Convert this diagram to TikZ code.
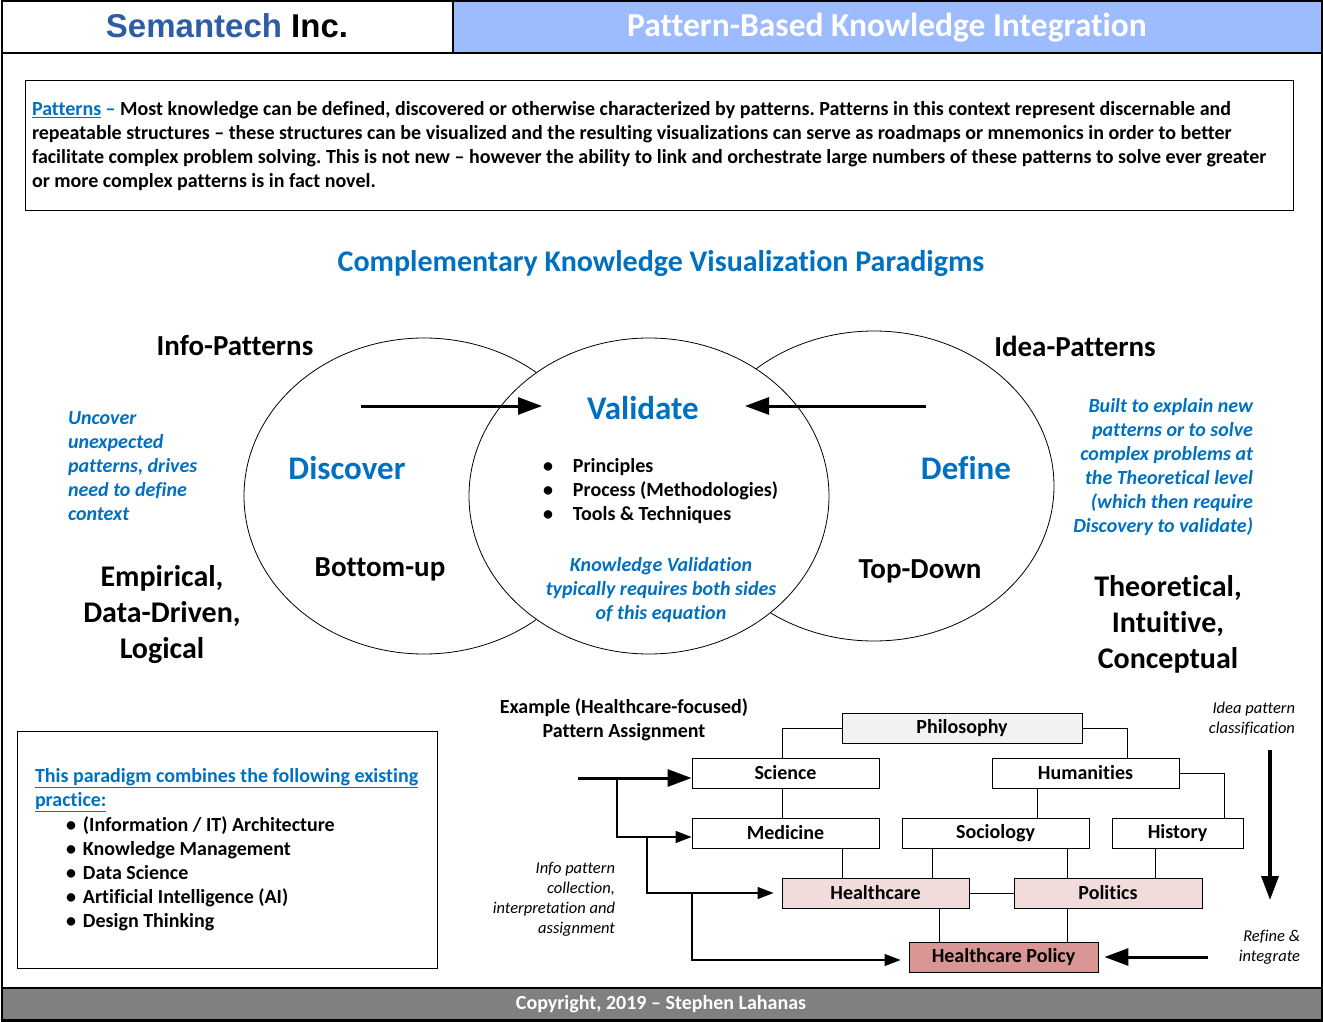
\documentclass[tikz,border=0pt]{standalone}
\usepackage{fontspec}
\setmainfont{Carlito}[Ligatures=NoCommon]
\newfontfamily\arialfont{Liberation Sans}
\usetikzlibrary{arrows.meta,calc}
\definecolor{kblue}{RGB}{0,112,192}
\definecolor{semblue}{RGB}{46,93,168}
\definecolor{hdrblue}{RGB}{157,187,255}
\definecolor{ftrgray}{RGB}{128,128,128}
\definecolor{philgray}{RGB}{242,242,242}
\definecolor{pinklt}{RGB}{242,220,219}
\definecolor{pinkdk}{RGB}{218,150,148}
\newcommand\fs[2]{\fontsize{#1}{#2}\selectfont}
\frenchspacing
\begin{document}
\begin{tikzpicture}[x=1pt,y=-1pt,
  txt/.style={inner sep=0pt,outer sep=0pt},
  tbox/.style={draw,line width=0.9pt,minimum height=30pt,inner sep=0pt,font=\bfseries\fs{20}{24}},
  bigarrow/.style={line width=3pt,-{Triangle[length=24pt,width=17pt]}},
  thinarrow/.style={line width=1.3pt,-{Triangle[length=16pt,width=12pt]}},
  conn/.style={line width=0.9pt}]
\useasboundingbox (0,0) rectangle (1323,1022);
% frames
\draw[line width=1.2pt] (2,1) rectangle (1322,1021);
\draw[line width=1.2pt,fill=white] (2,1) rectangle (453,53);
\draw[line width=1.2pt,fill=hdrblue] (453,1) rectangle (1322,53);
\draw[line width=1.2pt,fill=ftrgray] (2,988) rectangle (1322,1020);
\node[txt,font=\arialfont\bfseries\fs{33}{36}] (brand) at (227,26) {\textcolor{semblue}{Semantech} Inc.};
\node[txt,font=\bfseries\fs{33.5}{36},text=white] (htitle) at (887,28) {Pattern-Based Knowledge Integration};
\node[txt,font=\bfseries\fs{20}{24},text=white] (copy) at (661,1004) {Copyright, 2019 – Stephen Lahanas};
% intro box
\draw[line width=0.9pt] (25,80) rectangle (1293,210);
\node[txt,anchor=west,align=left,font=\bfseries\fs{20}{24}] (para) at (32,146) {\textcolor{kblue}{\underline{Patterns} –} Most knowledge can be defined, discovered or otherwise characterized by patterns. Patterns in this context represent discernable and\\
repeatable structures – these structures can be visualized and the resulting visualizations can serve as roadmaps or mnemonics in order to better\\
facilitate complex problem solving. This is not new – however the ability to link and orchestrate large numbers of these patterns to solve ever greater\\
or more complex patterns is in fact novel.};
\node[txt,font=\bfseries\fs{30}{34},text=kblue] (ctitle) at (661,264) {Complementary Knowledge Visualization Paradigms};
% circles
\draw[line width=0.8pt] (424,496) ellipse [x radius=180pt, y radius=158pt];
\draw[line width=0.8pt] (874,486) ellipse [x radius=180pt, y radius=155pt];
\draw[line width=0.8pt,fill=white] (649,496) ellipse [x radius=180pt, y radius=158pt];
\node[txt,font=\bfseries\fs{29}{34}] (info) at (235,346) {Info-Patterns};
\node[txt,font=\bfseries\fs{29}{34}] (idea) at (1075,346) {Idea-Patterns};
\node[txt,font=\bfseries\fs{33}{36},text=kblue] (validate) at (643,408) {Validate};
\node[txt,font=\bfseries\fs{33}{36},text=kblue] (discover) at (347,468) {Discover};
\node[txt,font=\bfseries\fs{33}{36},text=kblue] (define) at (966,468) {Define};
\node[txt,font=\bfseries\fs{29}{34}] (bottomup) at (380,569) {Bottom-up};
\node[txt,font=\bfseries\fs{29}{34}] (topdown) at (920,571) {Top-Down};
\coordinate (la1) at (361,406); \coordinate (la2) at (542,406);
\coordinate (ra1) at (926,406); \coordinate (ra2) at (745,406);
\draw[bigarrow] (la1) -- (la2);
\draw[bigarrow] (ra1) -- (ra2);
\node[txt,anchor=west,align=left,font=\bfseries\fs{20}{24}] (vlist) at (543,491) {\makebox[30pt][l]{•}Principles\\ \makebox[30pt][l]{•}Process (Methodologies)\\ \makebox[30pt][l]{•}Tools \& Techniques};
\node[txt,align=center,font=\bfseries\itshape\fs{20}{24},text=kblue] (kval) at (661,590) {Knowledge Validation\\ typically requires both sides\\ of this equation};
\node[txt,anchor=west,align=left,font=\bfseries\itshape\fs{20}{24},text=kblue] (uncover) at (68,466) {Uncover\\ unexpected\\ patterns, drives\\ need to define\\ context};
\node[txt,anchor=east,align=right,font=\bfseries\itshape\fs{20}{24},text=kblue] (built) at (1253,467) {Built to explain new\\ patterns or to solve\\ complex problems at\\ the Theoretical level\\ (which then require\\ Discovery to validate)};
\node[txt,align=center,font=\bfseries\fs{30}{36}] (empir) at (162,615) {Empirical,\\ Data-Driven,\\ Logical};
\node[txt,align=center,font=\bfseries\fs{30}{36}] (theor) at (1168,624) {Theoretical,\\ Intuitive,\\ Conceptual};
% practice box
\draw[line width=0.9pt] (17,731) rectangle (437,968);
\node[txt,anchor=west,align=left,font=\bfseries\fs{20}{24.2}] (practice) at (35,850) {\textcolor{kblue}{\underline{This paradigm combines the following existing}}\\
\textcolor{kblue}{\underline{practice:}}\\
\hspace*{31pt}\makebox[17pt][l]{•}(Information / IT) Architecture\\
\hspace*{31pt}\makebox[17pt][l]{•}Knowledge Management\\
\hspace*{31pt}\makebox[17pt][l]{•}Data Science\\
\hspace*{31pt}\makebox[17pt][l]{•}Artificial Intelligence (AI)\\
\hspace*{31pt}\makebox[17pt][l]{•}Design Thinking};
% tree
\node[txt,align=center,font=\bfseries\fs{20}{24}] (example) at (624,720) {Example (Healthcare-focused)\\ Pattern Assignment};
\node[tbox,fill=philgray,minimum width=240pt] (phil) at (962,728) {Philosophy};
\node[tbox,minimum width=187pt] (sci) at (785.5,773) {Science};
\node[tbox,minimum width=187pt] (hum) at (1085.5,773) {Humanities};
\node[tbox,minimum width=187pt] (med) at (785.5,833) {Medicine};
\node[tbox,minimum width=187pt] (soc) at (995.5,833) {Sociology};
\node[tbox,minimum width=131pt] (hist) at (1177.5,833) {History};
\node[tbox,fill=pinklt,minimum width=187pt] (hc) at (875.5,893) {Healthcare};
\node[tbox,fill=pinklt,minimum width=188pt] (pol) at (1108,893) {Politics};
\node[tbox,fill=pinkdk,minimum width=189pt] (hp) at (1003.5,957) {Healthcare Policy};
\draw[conn] (phil.west) -| ([xshift=-3.5pt]sci.north);
\draw[conn] (phil.east) -| ([xshift=41.5pt]hum.north);
\draw[conn] ([xshift=-3.5pt]sci.south) -- ([xshift=-3.5pt]med.north);
\draw[conn] ([xshift=41.5pt]soc.north) -- ([xshift=41.5pt]soc.north |- hum.south);
\draw[conn] (hum.east) -| ([xshift=46.5pt]hist.north);
\draw[conn] ([xshift=-33.5pt]hc.north) -- ([xshift=-33.5pt]hc.north |- med.south);
\draw[conn] ([xshift=56.5pt]hc.north) -- ([xshift=56.5pt]hc.north |- soc.south);
\draw[conn] ([xshift=-41pt]pol.north) -- ([xshift=-41pt]pol.north |- soc.south);
\draw[conn] ([xshift=47pt]pol.north) -- ([xshift=47pt]pol.north |- hist.south);
\draw[conn] (hc.east) -- (pol.west);
\draw[conn] ([xshift=-64.5pt]hp.north) -- ([xshift=-64.5pt]hp.north |- hc.south);
\draw[conn] ([xshift=63.5pt]hp.north) -- ([xshift=63.5pt]hp.north |- pol.south);
% input arrows
\coordinate (a0) at (578,778);
\coordinate (b0) at (617,778);
\coordinate (c0) at (647,837);
\coordinate (d0) at (692,893);
\coordinate (e0) at ($(hp.west)+(-8,3)$);
\draw[bigarrow] (a0) -- (a0 -| sci.west);
\draw[thinarrow] (b0) |- (med.west |- c0);
\draw[thinarrow] (c0) |- ($(hc.west)+(-8,0)$);
\draw[thinarrow] (d0) |- (e0);
\node[txt,anchor=east,align=right,font=\itshape\fs{16.5}{20}] (infolab) at (615,899) {Info pattern\\ collection,\\ interpretation and\\ assignment};
\node[txt,anchor=east,align=right,font=\itshape\fs{16.5}{20}] (idealab) at (1295,719) {Idea pattern\\ classification};
\node[txt,anchor=east,align=right,font=\itshape\fs{16.5}{20}] (refine) at (1300,947) {Refine \&\\ integrate};
\coordinate (r1) at (1270,750); \coordinate (r2) at (1270,900);
\draw[bigarrow,line width=3.5pt] (r1) -- (r2);
\coordinate (f0) at (1208,957);
\draw[bigarrow] (f0) -- ([xshift=6pt]hp.east);
\end{tikzpicture}
\end{document}
